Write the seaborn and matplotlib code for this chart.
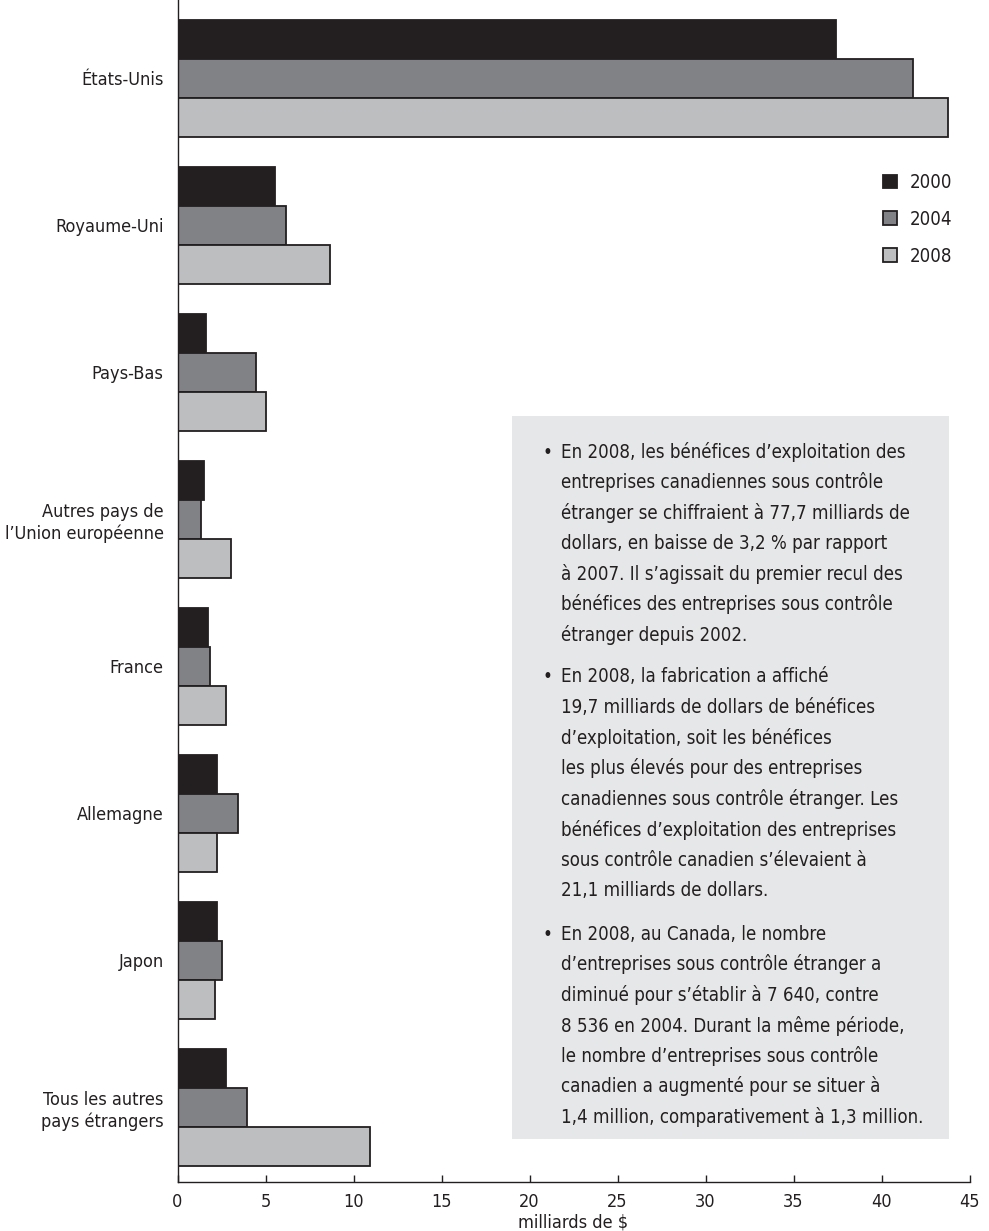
import numpy as np
import pandas as pd
import matplotlib
matplotlib.use("Agg")
import matplotlib.pyplot as plt
import seaborn as sns
from matplotlib import font_manager
from matplotlib.patches import Rectangle

# données (milliards de $)
pays = ["États-Unis", "Royaume-Uni", "Pays-Bas", "Autres pays de\nl’Union européenne",
        "France", "Allemagne", "Japon", "Tous les autres\npays étrangers"]
annees = ["2000", "2004", "2008"]
val_2000 = [37.4, 5.55, 1.60, 1.48, 1.75, 2.27, 2.27, 2.78]
val_2004 = [41.8, 6.17, 4.47, 1.33, 1.84, 3.44, 2.50, 3.95]
val_2008 = [43.8, 8.67, 5.00, 3.03, 2.76, 2.24, 2.11, 10.95]
couleurs = ["#231f20", "#808285", "#bcbec0"]
x_ticks = [0, 5, 10, 15, 20, 25, 30, 35, 40, 45]

puces = [
    ["En 2008, les bénéfices d’exploitation des",
     "entreprises canadiennes sous contrôle",
     "étranger se chiffraient à 77,7 milliards de",
     "dollars, en baisse de 3,2 % par rapport",
     "à 2007. Il s’agissait du premier recul des",
     "bénéfices des entreprises sous contrôle",
     "étranger depuis 2002."],
    ["En 2008, la fabrication a affiché",
     "19,7 milliards de dollars de bénéfices",
     "d’exploitation, soit les bénéfices",
     "les plus élevés pour des entreprises",
     "canadiennes sous contrôle étranger. Les",
     "bénéfices d’exploitation des entreprises",
     "sous contrôle canadien s’élevaient à",
     "21,1 milliards de dollars."],
    ["En 2008, au Canada, le nombre",
     "d’entreprises sous contrôle étranger a",
     "diminué pour s’établir à 7 640, contre",
     "8 536 en 2004. Durant la même période,",
     "le nombre d’entreprises sous contrôle",
     "canadien a augmenté pour se situer à",
     "1,4 million, comparativement à 1,3 million."],
]

df = pd.DataFrame({
    "pays": pays * 3,
    "annee": np.repeat(annees, len(pays)),
    "valeur": val_2000 + val_2004 + val_2008,
})

sns.set_theme(style="white")
installed = {f.name for f in font_manager.fontManager.ttflist}
if "Liberation Sans Narrow" in installed:
    plt.rcParams["font.family"] = ["Liberation Sans Narrow", "DejaVu Sans"]
else:
    plt.rcParams["font.family"] = ["DejaVu Sans"]
    plt.rcParams["font.stretch"] = "condensed"

INK = "#231f20"
W, H = 989, 1231
fig = plt.figure(figsize=(W / 100, H / 100), dpi=100)
r = fig.canvas.get_renderer()


def fit(text, target_px, base=14):
    t = fig.text(0, 0, text, fontsize=base)
    w = t.get_window_extent(r).width
    t.remove()
    return base * target_px / w


lab_size = fit("l’Union européenne", 160)
box_size = fit(puces[0][2], 352)

ax = fig.add_axes([177.5 / W, 1 - 1182 / H, (969.5 - 177.5) / W, 1182 / H])

sns.barplot(data=df, x="valeur", y="pays", hue="annee", order=pays, hue_order=annees,
            palette=couleurs, orient="h", width=0.8, saturation=1, errorbar=None,
            edgecolor=INK, linewidth=1.3, ax=ax)

ax.set_xlim(0, 45)
ax.set_xticks(x_ticks)
ax.set_ylim(7.507, -0.534)
ax.tick_params(axis="x", direction="in", length=5, width=1, color=INK,
               labelsize=lab_size, labelcolor=INK, pad=8, bottom=True)
ax.tick_params(axis="y", length=0, pad=10, labelsize=lab_size, labelcolor=INK)
ax.set_xlabel("milliards de $", fontsize=lab_size, color=INK, labelpad=2)
ax.set_ylabel("")
sns.despine(ax=ax)
for s in ["left", "bottom"]:
    ax.spines[s].set_color(INK)
    ax.spines[s].set_linewidth(1.0)

h, l = ax.get_legend_handles_labels()
ax.legend(h, l, loc="upper left", bbox_to_anchor=(883 / W, 1 - 173 / H),
          bbox_transform=fig.transFigure, frameon=False, fontsize=lab_size + 0.5,
          handlelength=0.75, handleheight=0.75, handletextpad=0.7,
          labelspacing=0.95, borderpad=0, borderaxespad=0, labelcolor=INK)

# encadré de texte
fig.add_artist(Rectangle((512 / W, 1 - 1139 / H), (949 - 512) / W, (1139 - 416) / H,
                         transform=fig.transFigure, facecolor="#e6e7e8",
                         edgecolor="none", zorder=1))

debuts = [450, 675, 932]
for lignes, y0 in zip(puces, debuts):
    fig.text(547 / W, 1 - y0 / H, "•", fontsize=box_size, color=INK, ha="center",
             va="center_baseline", zorder=2)
    for i, ligne in enumerate(lignes):
        fig.text(561 / W, 1 - (y0 + i * 30.5) / H, ligne, fontsize=box_size, color=INK,
                 ha="left", va="center_baseline", zorder=2)

fig.savefig("out.png", dpi=100)
